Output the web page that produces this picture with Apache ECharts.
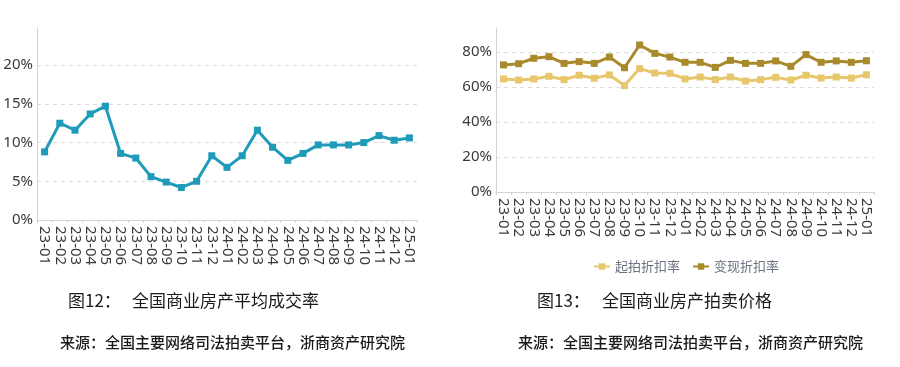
<!DOCTYPE html>
<html>
<head>
<meta charset="utf-8">
<script src="https://cdn.jsdelivr.net/npm/echarts@6/dist/echarts.min.js"></script>
<style>
html,body{margin:0;padding:0;background:#fff;}
#c{width:900px;height:367px;}
</style>
</head>
<body>
<div id="c"></div>
<script>
const months = ['23-01','23-02','23-03','23-04','23-05','23-06','23-07','23-08','23-09','23-10','23-11','23-12','24-01','24-02','24-03','24-04','24-05','24-06','24-07','24-08','24-09','24-10','24-11','24-12','25-01'];
const dealRate = [8.8,12.5,11.6,13.7,14.7,8.6,8.0,5.6,4.9,4.2,5.0,8.3,6.8,8.3,11.6,9.4,7.7,8.6,9.7,9.7,9.7,10.0,10.9,10.3,10.6];
const startDiscount = [64.6,64.0,64.6,66.1,64.2,66.7,65.0,66.9,60.8,70.5,68.0,67.8,64.6,65.7,64.2,65.7,63.4,64.2,65.5,64.0,66.7,65.1,65.7,65.1,67.0];
const realizeDiscount = [72.6,73.3,76.4,77.3,73.5,74.5,73.5,77.1,71.0,84.0,79.2,77.1,74.1,74.1,71.2,75.2,73.5,73.5,74.9,71.8,78.5,74.1,74.9,74.1,75.0];
const leftTickLabels = ['0%','5%','10%','15%','20%'];
const rightTickLabels = ['0%','20%','40%','60%','80%'];
const seriesNames = ['起拍折扣率','变现折扣率'];
const titles = ['图12：','全国商业房产平均成交率','图13：','全国商业房产拍卖价格'];
const sourceText = '来源：全国主要网络司法拍卖平台，浙商资产研究院';

const chart = echarts.init(document.getElementById('c'));
const axisLabelFont = "'Liberation Sans Narrow','Noto Sans',sans-serif";
function xAx(gi){
  return {
    type:'category', gridIndex:gi, data:months, boundaryGap:true,
    axisLine:{show:true,lineStyle:{color:'#d4d4d4',width:1}},
    axisTick:{show:true,length:3,lineStyle:{color:'#d4d4d4'}},
    axisLabel:{rotate:-90,interval:0,fontSize:15,color:'#3a3a3a',fontFamily:axisLabelFont,margin:6}
  };
}
function yAx(gi,max,interval,labels){
  return {
    type:'value', gridIndex:gi, min:0, max:max, interval:interval,
    axisLine:{show:true,lineStyle:{color:'#d4d4d4',width:1}},
    axisTick:{show:false},
    splitLine:{show:true,showMaxLine:false,lineStyle:{color:'#dcdcdc',type:[4,4],width:1}},
    axisLabel:{showMaxLabel:false,fontSize:15,color:'#3a3a3a',fontFamily:axisLabelFont,margin:4,
      formatter:function(v){const i=Math.round(v/interval);return (Math.abs(v-i*interval)<1e-6 && labels[i])?labels[i]:'';}}
  };
}
const tf = "'Noto Sans CJK SC',sans-serif";
chart.setOption({
  animation:false,
  grid:[
    {left:37,top:28,width:380,height:192},
    {left:496,top:28,width:378,height:164}
  ],
  xAxis:[xAx(0),xAx(1)],
  yAxis:[yAx(0,24.8,5,leftTickLabels),yAx(1,93.7,20,rightTickLabels)],
  legend:{
    data:seriesNames, left:588, top:255, itemWidth:16, itemHeight:8, itemGap:12,
    textStyle:{fontSize:13,color:'#6b7280',fontFamily:tf}
  },
  series:[
    {type:'line',name:'成交率',xAxisIndex:0,yAxisIndex:0,data:dealRate,
     symbol:'rect',symbolSize:7,lineStyle:{color:'#1f9bba',width:3},itemStyle:{color:'#1f9bba'}},
    {type:'line',name:seriesNames[0],xAxisIndex:1,yAxisIndex:1,data:startDiscount,
     symbol:'rect',symbolSize:7,lineStyle:{color:'#e8c66c',width:3},itemStyle:{color:'#e8c66c'}},
    {type:'line',name:seriesNames[1],xAxisIndex:1,yAxisIndex:1,data:realizeDiscount,
     symbol:'rect',symbolSize:7,lineStyle:{color:'#a8892c',width:3},itemStyle:{color:'#a8892c'}}
  ],
  graphic:[
    {type:'text',left:68,top:292,style:{text:titles[0],fontSize:17,fill:'#1a1a1a',fontFamily:tf}},
    {type:'text',left:132,top:292,style:{text:titles[1],fontSize:17,fill:'#1a1a1a',fontFamily:tf}},
    {type:'text',left:537,top:292,style:{text:titles[2],fontSize:17,fill:'#1a1a1a',fontFamily:tf}},
    {type:'text',left:602,top:292,style:{text:titles[3],fontSize:17,fill:'#1a1a1a',fontFamily:tf}},
    {type:'text',left:60,top:335,style:{text:sourceText,fontSize:15,fontWeight:500,fill:'#1a1a1a',fontFamily:tf}},
    {type:'text',left:518,top:335,style:{text:sourceText,fontSize:15,fontWeight:500,fill:'#1a1a1a',fontFamily:tf}}
  ]
});
</script>
</body>
</html>
